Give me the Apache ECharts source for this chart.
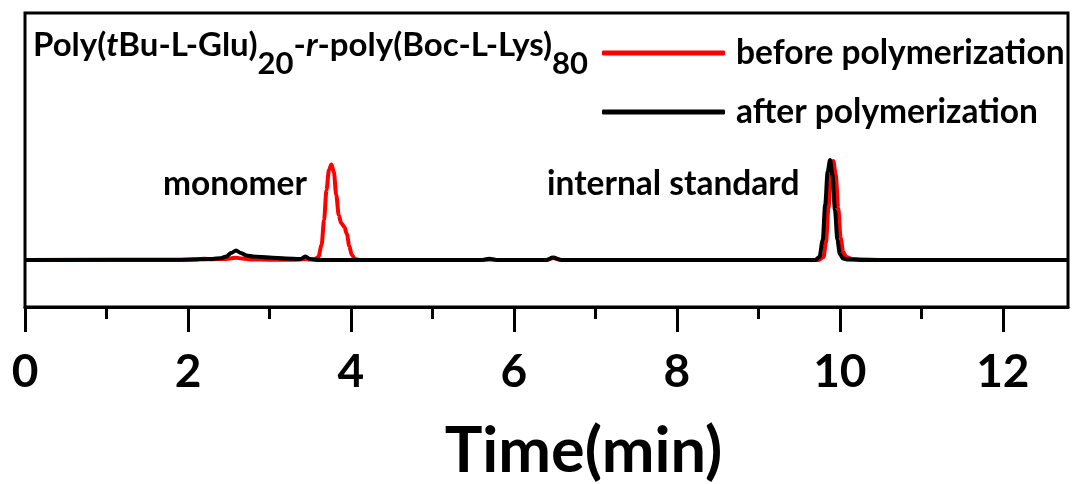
<!DOCTYPE html>
<html>
<head>
<meta charset="utf-8">
<script src="https://cdn.jsdelivr.net/npm/echarts@6/dist/echarts.min.js"></script>
<style>
  html, body { margin: 0; padding: 0; background: #fff; }
  #chart { width: 1072px; height: 484px; }
</style>
</head>
<body>
<div id="chart"></div>
<script>
// 保留时间 (min) 与 信号强度 (任意单位, 基线 = 0)
var beforeTime = [0, 1.9, 2.0, 2.1, 2.2, 2.3, 2.45, 2.52, 2.59, 2.66, 2.8, 3.0, 3.3, 3.44, 3.5, 3.55, 3.6, 3.64, 3.67, 3.7, 3.73, 3.76, 3.79, 3.82, 3.85, 3.88, 3.92, 3.95, 3.98, 4.01, 4.05, 4.1, 5.6, 5.7, 5.8, 6.4, 6.48, 6.58, 9.6, 9.74, 9.8, 9.83, 9.86, 9.89, 9.92, 9.95, 9.98, 10.01, 10.04, 10.08, 10.15, 10.3, 10.5, 12.8]
var beforeSignal = [0, 0, 0.6, 0.8, 1.2, 0.8, 1, 1.6, 2.2, 1.5, 0.5, 0.3, 0.2, 1, 0.4, 0.5, 3, 15, 40, 70, 90, 95.5, 88, 65, 45, 37, 33, 26, 14, 5, 1, 0, 0, 0.6, 0, 0, 2, 0, 0, 0, 3, 18, 52, 85, 99, 85, 52, 22, 8, 3, 1, 0.5, 0, 0]

var afterTime = [0, 2.0, 2.3, 2.4, 2.47, 2.53, 2.59, 2.65, 2.72, 2.8, 3.0, 3.2, 3.38, 3.44, 3.5, 3.6, 5.6, 5.7, 5.8, 6.4, 6.48, 6.58, 9.6, 9.7, 9.75, 9.79, 9.82, 9.85, 9.88, 9.91, 9.94, 9.97, 10.0, 10.04, 10.1, 10.3, 12.8]
var afterSignal = [0, 0.3, 1, 1.8, 3.5, 7, 9.5, 7, 4.5, 3.5, 2.5, 1.5, 1, 3.5, 1, 0, 0, 1.2, 0, 0, 2.5, 0, 0, 0, 3, 20, 55, 88, 100, 85, 50, 20, 6, 1.5, 0.5, 0, 0]

var majorTicks = [0, 2, 4, 6, 8, 10, 12]
var minorTicks = [1, 3, 5, 7, 9, 11]

var seriesNames = ['before polymerization', 'after polymerization']

function pairs (xs, ys) {
  return xs.map(function (x, i) { return [x, ys[i]] })
}

var FONT = 'Lato'
var chart = echarts.init(document.getElementById('chart'))

var option = {
  animation: false,
  backgroundColor: '#fff',
  color: ['#ff0000', '#000000'],
  title: {
    left: 28,
    top: 24,
    text: '{a|Poly(}{i|t}{a|Bu-L-Glu)}{s|20}{a|-}{i|r}{a|-poly(Boc-L-Lys)}{s|80}',
    textStyle: {
      rich: {
        a: { fontFamily: FONT, fontWeight: 'bold', fontSize: 33, color: '#000', lineHeight: 38, verticalAlign: 'top' },
        i: { fontFamily: FONT, fontWeight: 'bold', fontStyle: 'italic', fontSize: 33, color: '#000', lineHeight: 38, verticalAlign: 'top' },
        s: { fontFamily: FONT, fontWeight: 'bold', fontSize: 31, color: '#000', lineHeight: 50, verticalAlign: 'bottom' }
      }
    }
  },
  legend: {
    orient: 'vertical',
    left: 597,
    top: 30,
    itemWidth: 123,
    itemHeight: 5,
    itemGap: 23,
    data: [
      { name: seriesNames[0], icon: 'roundRect' },
      { name: seriesNames[1], icon: 'roundRect' }
    ],
    textStyle: {
      fontFamily: FONT,
      fontWeight: 'bold',
      fontSize: 33.5,
      color: '#000',
      lineHeight: 36,
      padding: [0, 0, 0, 6]
    }
  },
  grid: {
    left: 25,
    right: 4,
    top: 13,
    bottom: 177,
    outerBoundsMode: 'none',
    show: true,
    borderColor: '#000',
    borderWidth: 3
  },
  xAxis: [
    {
      type: 'value',
      min: 0,
      max: 12.8,
      position: 'bottom',
      axisLine: { show: true, onZero: false, lineStyle: { color: '#000', width: 3 } },
      axisTick: { show: true, customValues: majorTicks, length: 25, lineStyle: { color: '#000', width: 3 } },
      axisLabel: {
        customValues: majorTicks,
        margin: 42,
        fontFamily: FONT,
        fontWeight: 'bold',
        fontSize: 46,
        color: '#000'
      },
      splitLine: { show: false },
      name: 'Time(min)',
      nameLocation: 'middle',
      nameGap: 113,
      nameTextStyle: {
        fontFamily: FONT,
        fontWeight: 'bold',
        fontSize: 63,
        color: '#000',
        padding: [0, 0, 0, 74]
      }
    },
    {
      type: 'value',
      min: 0,
      max: 12.8,
      position: 'bottom',
      axisLine: { show: false, onZero: false },
      axisTick: { show: true, customValues: minorTicks, length: 12, lineStyle: { color: '#000', width: 3 } },
      axisLabel: { show: false },
      splitLine: { show: false }
    }
  ],
  yAxis: {
    type: 'value',
    min: -47,
    max: 247,
    show: false
  },
  graphic: [
    {
      type: 'text',
      left: 163,
      top: 167,
      style: { text: 'monomer', fontFamily: FONT, fontWeight: 'bold', fontSize: 33.5, fill: '#000' }
    },
    {
      type: 'text',
      left: 547,
      top: 167,
      style: { text: 'internal standard', fontFamily: FONT, fontWeight: 'bold', fontSize: 33.5, fill: '#000' }
    }
  ],
  series: [
    {
      name: seriesNames[0],
      type: 'line',
      data: pairs(beforeTime, beforeSignal),
      symbol: 'none',
      smooth: 0.3,
      smoothMonotone: 'x',
      lineStyle: { width: 4, color: '#ff0000' }
    },
    {
      name: seriesNames[1],
      type: 'line',
      data: pairs(afterTime, afterSignal),
      symbol: 'none',
      smooth: 0.3,
      smoothMonotone: 'x',
      lineStyle: { width: 4, color: '#000000' }
    }
  ]
}

chart.setOption(option)
</script>
</body>
</html>
